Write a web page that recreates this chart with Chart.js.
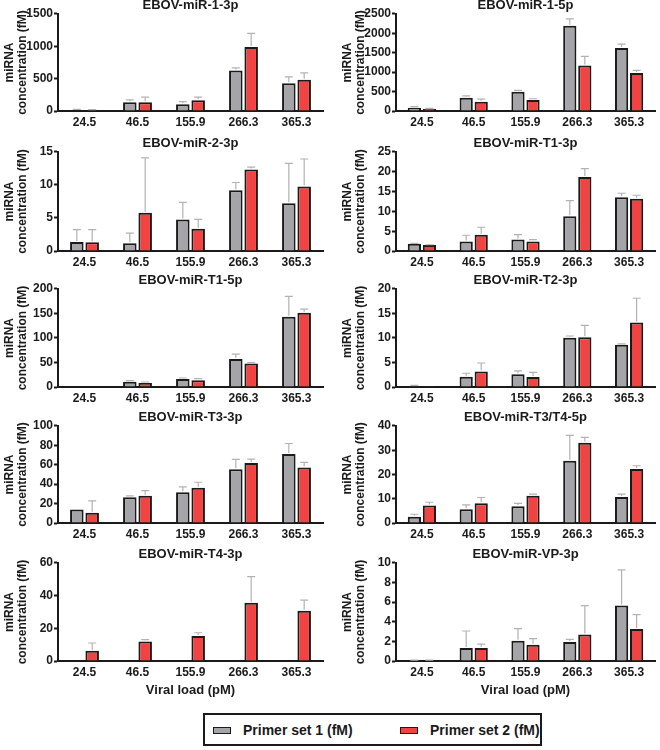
<!DOCTYPE html>
<html>
<head>
<meta charset="utf-8">
<script src="https://cdn.jsdelivr.net/npm/chart.js@4.4.1/dist/chart.umd.min.js"></script>
<style>
  body { margin: 0; width: 660px; height: 750px; background: #fff; position: relative; overflow: hidden;
         font-family: "Liberation Sans", Arial, sans-serif; }
  canvas.panel { position: absolute; }
  #legend { position: absolute; left: 203px; top: 713px; width: 335px; height: 29px; border: 2px solid #1a1a1a; }
  #legend .sw { position: absolute; top: 12px; width: 16px; height: 5px; border: 1.5px solid #1a1a1a; }
  #legend .txt { position: absolute; top: 7px; font-size: 14px; font-weight: bold; color: #1a1a1a; line-height: 16px; }
</style>
</head>
<body>
<div id="legend">
  <span class="sw" style="left:8px; background:#a4a4a9"></span><span class="txt" style="left:38px">Primer set 1 (fM)</span>
  <span class="sw" style="left:195px; background:#f24343"></span><span class="txt" style="left:225px">Primer set 2 (fM)</span>
</div>
<script>
// x categories: viral load (pM)
const viralLoad = ['24.5', '46.5', '155.9', '266.3', '365.3'];

const panelTitles = ['EBOV-miR-1-3p', 'EBOV-miR-1-5p', 'EBOV-miR-2-3p', 'EBOV-miR-T1-3p', 'EBOV-miR-T1-5p',
                     'EBOV-miR-T2-3p', 'EBOV-miR-T3-3p', 'EBOV-miR-T3/T4-5p', 'EBOV-miR-T4-3p', 'EBOV-miR-VP-3p'];
const yMax  = [1500, 2500, 15, 25, 200, 20, 100, 40, 60, 10];
const yStep = [500, 500, 5, 5, 50, 5, 20, 10, 20, 2];

// primer set 1 (fM), mean and SD
const set1Mean = [
  [10, 135, 104, 625, 427],
  [85, 341, 495, 2193, 1621],
  [1.37, 1.17, 4.78, 9.2, 7.22],
  [1.86, 2.37, 2.88, 8.8, 13.56],
  [0, 10.9, 16.4, 57.3, 143.3],
  [0.2, 2.1, 2.6, 10.03, 8.6],
  [14, 26.6, 31.7, 55.3, 71],
  [2.6, 5.66, 6.9, 25.65, 10.76],
  [null, null, null, null, null],
  [0.03, 1.33, 2.07, 1.94, 5.65]
];
const set1Sd = [
  [15, 37, 42, 42, 99],
  [26, 51, 34, 179, 103],
  [1.88, 1.53, 2.59, 1.17, 6.05],
  [0.05, 1.61, 1.27, 3.9, 1.02],
  [0, 2.1, 2.0, 9.6, 41.7],
  [0.14, 0.7, 0.68, 0.37, 0.2],
  [0, 1.4, 5.5, 10.2, 10.9],
  [1.0, 1.79, 1.2, 10.45, 1.14],
  [0, 0, 0, 0, 0],
  [0.05, 1.73, 1.23, 0.26, 3.64]
];

// primer set 2 (fM), mean and SD
const set2Mean = [
  [5, 135, 167, 990, 484],
  [51, 239, 282, 1169, 981],
  [1.32, 5.8, 3.36, 12.36, 9.76],
  [1.53, 4.07, 2.37, 18.7, 13.2],
  [0, 8.2, 13.7, 47.8, 151.5],
  [0.05, 3.14, 2.05, 10.17, 13.17],
  [10.6, 28, 36.2, 61.8, 57.3],
  [7.2, 8.1, 11.2, 33.1, 22.3],
  [6.3, 12.0, 15.3, 35.7, 30.8],
  [0.03, 1.33, 1.67, 2.69, 3.27]
];
const set2Sd = [
  [15, 78, 46, 210, 105],
  [17, 68, 34, 239, 68],
  [1.93, 8.3, 1.42, 0.34, 4.17],
  [0.05, 1.93, 0.51, 2.1, 0.87],
  [0, 2.0, 3.3, 2.0, 7.5],
  [0, 1.76, 0.95, 2.39, 4.93],
  [12.3, 5.4, 5.8, 4.1, 5.2],
  [1.35, 2.4, 0.7, 2.2, 1.3],
  [4.7, 1.1, 2.0, 15.9, 6.5],
  [0.05, 0.4, 0.61, 2.96, 1.46]
];

// page layout (px)
const plotTops    = [14, 152, 289, 426, 563];
const plotBottoms = [111, 251, 387, 523, 661];
const titleH = 16;
const ink = '#1a1a1a';

Chart.defaults.font.family = '"Liberation Sans", Arial, sans-serif';
Chart.defaults.color = ink;

// upper SD whiskers, drawn through the y scale
const errorBars = {
  id: 'errorBars',
  afterDatasetsDraw(chart) {
    const ctx = chart.ctx;
    const yScale = chart.scales.y;
    chart.data.datasets.forEach((ds, di) => {
      const meta = chart.getDatasetMeta(di);
      meta.data.forEach((bar, j) => {
        const v = ds.data[j];
        const e = ds.errors[j];
        if (v == null || !e) return;
        const y0 = yScale.getPixelForValue(v);
        const y1 = yScale.getPixelForValue(v + e);
        ctx.save();
        ctx.strokeStyle = '#b2b2b2';
        ctx.lineWidth = 1.2;
        ctx.beginPath();
        ctx.moveTo(bar.x, y0 - 1);
        ctx.lineTo(bar.x, y1);
        ctx.moveTo(bar.x - 4, y1);
        ctx.lineTo(bar.x + 4, y1);
        ctx.stroke();
        ctx.restore();
      });
    });
  }
};

panelTitles.forEach((title, i) => {
  const col = i % 2;
  const row = Math.floor(i / 2);
  const lastRow = row === 4;
  const xAxisH = lastRow ? 37 : 22;
  const plotH = plotBottoms[row] - plotTops[row];

  const canvas = document.createElement('canvas');
  canvas.className = 'panel';
  canvas.width = 330;
  canvas.height = titleH + plotH + xAxisH;
  canvas.style.left = (col * 330) + 'px';
  canvas.style.top = (plotTops[row] - titleH) + 'px';
  document.body.appendChild(canvas);

  new Chart(canvas, {
    type: 'bar',
    data: {
      labels: viralLoad,
      datasets: [
        {
          label: 'Primer set 1 (fM)',
          data: set1Mean[i],
          errors: set1Sd[i],
          backgroundColor: '#a4a4a9',
          borderColor: ink,
          borderWidth: 2
        },
        {
          label: 'Primer set 2 (fM)',
          data: set2Mean[i],
          errors: set2Sd[i],
          backgroundColor: '#f24343',
          borderColor: ink,
          borderWidth: 2
        }
      ]
    },
    options: {
      responsive: false,
      animation: false,
      devicePixelRatio: 1,
      categoryPercentage: 0.58,
      barPercentage: 0.88,
      layout: { padding: { left: col ? 8 : 0, right: col ? 5 : 7, top: 0, bottom: 0 } },
      plugins: {
        legend: { display: false },
        tooltip: { enabled: false },
        title: {
          display: true,
          text: title,
          fullSize: false,
          color: ink,
          font: { size: 13, weight: 'bold', lineHeight: 1.15 },
          padding: { top: 0, bottom: 1 }
        }
      },
      scales: {
        x: {
          grid: { display: false, drawTicks: false },
          border: { display: true, color: ink, width: 2 },
          ticks: { font: { size: 12, weight: 'bold' }, color: ink, padding: 4, maxRotation: 0 },
          title: {
            display: lastRow,
            text: 'Viral load (pM)',
            color: ink,
            font: { size: 13, weight: 'bold', lineHeight: 1.2 },
            padding: 0
          },
          afterFit: (scale) => { scale.height = xAxisH; }
        },
        y: {
          min: 0,
          max: yMax[i],
          grid: { drawOnChartArea: false, drawTicks: true, tickLength: 4, tickWidth: 2, tickColor: ink },
          border: { display: true, color: ink, width: 2 },
          ticks: {
            stepSize: yStep[i],
            font: { size: 12, weight: 'bold' },
            color: ink,
            padding: 1,
            callback: (v) => String(v)
          },
          title: {
            display: true,
            text: ['miRNA', 'concentration (fM)'],
            color: ink,
            font: { size: 12, weight: 'bold', lineHeight: 1.1 },
            padding: { top: 3, bottom: 0 }
          },
          afterFit: (scale) => { scale.width = 58; }
        }
      }
    },
    plugins: [errorBars]
  });
});
</script>
</body>
</html>
